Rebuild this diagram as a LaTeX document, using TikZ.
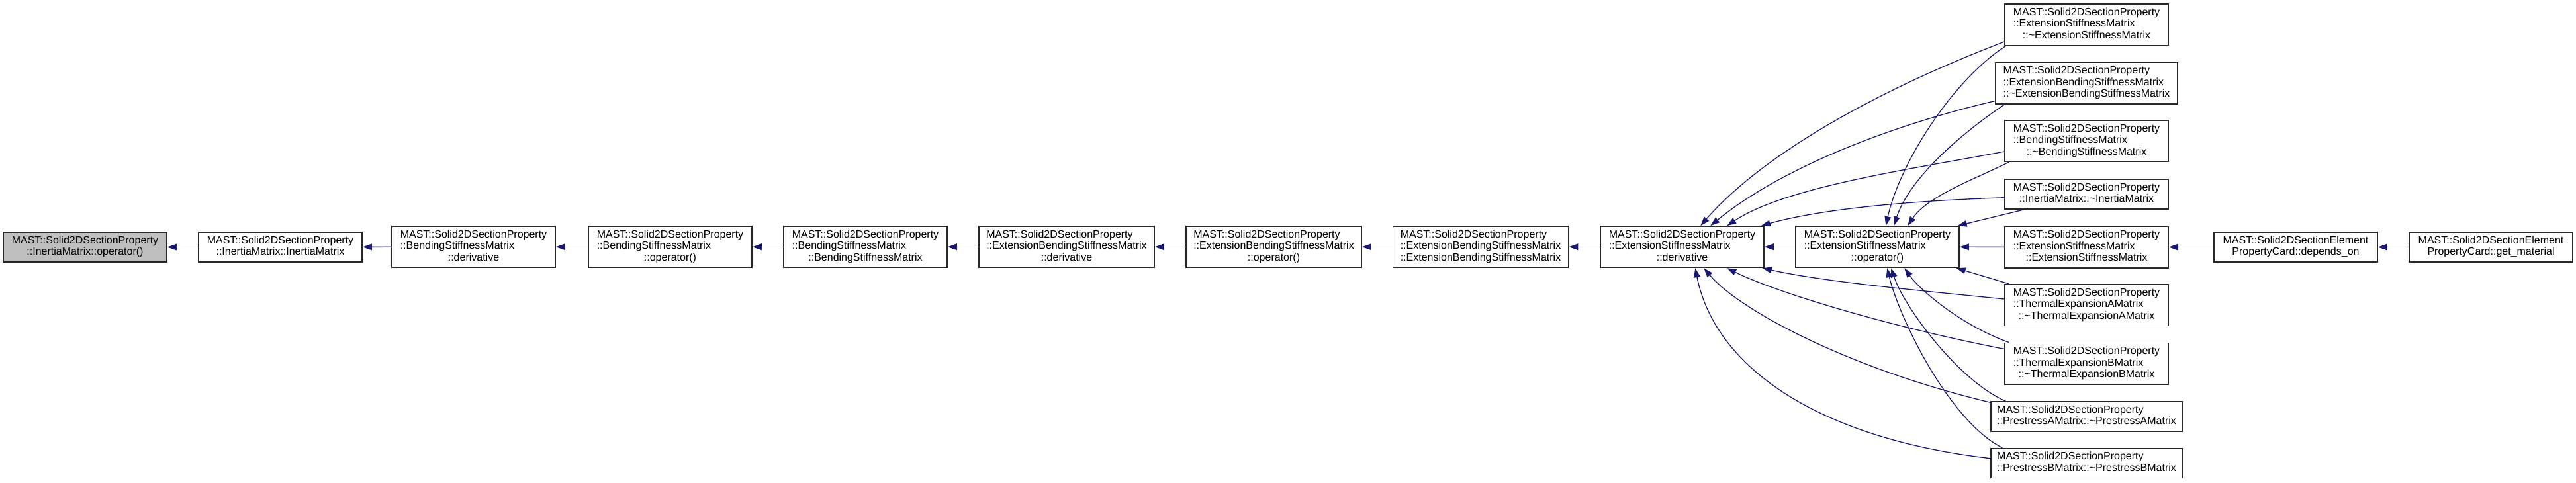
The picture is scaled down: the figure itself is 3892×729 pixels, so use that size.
\documentclass[tikz,border=0pt]{standalone}
\usepackage{fontspec}
\setmainfont{Liberation Sans}
\definecolor{edgeblue}{RGB}{25,25,112}
\definecolor{boxline}{RGB}{40,40,40}
\definecolor{boxgray}{RGB}{191,191,191}
\usetikzlibrary{arrows.meta,calc}
\newcommand{\fnthree}[3]{\begin{tabular}{@{}l@{}}#1\\#2\\\multicolumn{1}{@{}c@{}}{#3}\end{tabular}}
\newcommand{\fntwo}[2]{\begin{tabular}{@{}c@{}}#1\\#2\end{tabular}}
\newcommand{\fntwoleft}[2]{\begin{tabular}{@{}l@{}}#1\\#2\end{tabular}}
\newcommand{\mastsp}{MAST::Solid2DSectionProperty}
\newcommand{\tld}{\textasciitilde}

\begin{document}
\begin{tikzpicture}[x=0.5pt, y=-0.5pt,
  fn/.style={draw=boxline, line width=0.75pt, fill=white, inner xsep=3pt, inner ysep=1pt,
    font=\fontsize{8}{8.75}\selectfont, minimum width=123.5pt},
  fn3/.style={fn, minimum height=31.25pt},
  fn2/.style={fn, minimum height=22.5pt},
  call/.style={draw=edgeblue, line width=0.65pt, -{Triangle[length=7pt,width=4.8pt]}}]
  \useasboundingbox (0,0) rectangle (3892,729);
  %% main chain
  \node[fn2, fill=boxgray] (iop) at (128.5,373.5) {\fntwo{\mastsp}{::InertiaMatrix::operator()}};
  \node[fn2] (ictor) at (423.5,373.5) {\fntwo{\mastsp}{::InertiaMatrix::InertiaMatrix}};
  \node[fn3] (bder) at (715.5,373.2) {\fnthree{\mastsp}{::BendingStiffnessMatrix}{::derivative}};
  \node[fn3] (bop) at (1012.5,373.2) {\fnthree{\mastsp}{::BendingStiffnessMatrix}{::operator()}};
  \node[fn3] (bctor) at (1307.5,373.2) {\fnthree{\mastsp}{::BendingStiffnessMatrix}{::BendingStiffnessMatrix}};
  \node[fn3, minimum width=132.5pt] (ebder) at (1611.5,373.2) {\fnthree{\mastsp}{::ExtensionBendingStiffnessMatrix}{::derivative}};
  \node[fn3, minimum width=132.5pt] (ebop) at (1924.5,373.2) {\fnthree{\mastsp}{::ExtensionBendingStiffnessMatrix}{::operator()}};
  \node[fn3, minimum width=132.5pt] (ebctor) at (2237,373.2) {\fnthree{\mastsp}{::ExtensionBendingStiffnessMatrix}{::ExtensionBendingStiffnessMatrix}};
  \node[fn3] (eder) at (2541.5,373.2) {\fnthree{\mastsp}{::ExtensionStiffnessMatrix}{::derivative}};
  \node[fn3] (eop) at (2836.5,373.2) {\fnthree{\mastsp}{::ExtensionStiffnessMatrix}{::operator()}};
  %% callers column
  \node[fn3] (edtor) at (3152.5,37) {\fnthree{\mastsp}{::ExtensionStiffnessMatrix}{::\tld ExtensionStiffnessMatrix}};
  \node[fn3, minimum width=137.5pt] (ebdtor) at (3152.5,125.5) {\fnthree{\mastsp}{::ExtensionBendingStiffnessMatrix}{::\tld ExtensionBendingStiffnessMatrix}};
  \node[fn3] (bdtor) at (3152.5,213) {\fnthree{\mastsp}{::BendingStiffnessMatrix}{::\tld BendingStiffnessMatrix}};
  \node[fn2] (idtor) at (3152.5,293.5) {\fntwo{\mastsp}{::InertiaMatrix::\tld InertiaMatrix}};
  \node[fn3] (ector) at (3152.5,373.5) {\fnthree{\mastsp}{::ExtensionStiffnessMatrix}{::ExtensionStiffnessMatrix}};
  \node[fn3] (tadtor) at (3152.5,461) {\fnthree{\mastsp}{::ThermalExpansionAMatrix}{::\tld ThermalExpansionAMatrix}};
  \node[fn3] (tbdtor) at (3152.5,549.5) {\fnthree{\mastsp}{::ThermalExpansionBMatrix}{::\tld ThermalExpansionBMatrix}};
  \node[fn2, minimum width=144.5pt] (padtor) at (3152.5,629.5) {\fntwoleft{\mastsp}{::PrestressAMatrix::\tld PrestressAMatrix}};
  \node[fn2, minimum width=144.5pt] (pbdtor) at (3152.5,700) {\fntwoleft{\mastsp}{::PrestressBMatrix::\tld PrestressBMatrix}};
  %% element property card
  \node[fn2] (depon) at (3468.5,373.5) {\fntwo{MAST::Solid2DSectionElement}{PropertyCard::depends\_on}};
  \node[fn2] (getmat) at (3763.5,373.5) {\fntwo{MAST::Solid2DSectionElement}{PropertyCard::get\_material}};
  %% straight calls
  \draw[call] (ictor) -- (iop);
  \draw[call] (bder) -- (ictor);
  \draw[call] (bop) -- (bder);
  \draw[call] (bctor) -- (bop);
  \draw[call] (ebder) -- (bctor);
  \draw[call] (ebop) -- (ebder);
  \draw[call] (ebctor) -- (ebop);
  \draw[call] (eder) -- (ebctor);
  \draw[call] (eop) -- (eder);
  \draw[call] (ector) -- (eop);
  \draw[call] (depon) -- (ector);
  \draw[call] (getmat) -- (depon);
  %% into ::derivative from above
  \draw[call] ($(edtor.south west)+(0,-6)$) .. controls +(-229,88) and +(80,-92) .. ($(eder.north west)+(152,0)$);
  \draw[call] ($(ebdtor.south west)+(0,-5)$) .. controls +(-150,35) and +(110,-90) .. ($(eder.north west)+(167,0)$);
  \draw[call] ($(bdtor.south west)+(0,-16)$) .. controls +(-130,25) and +(90,-60) .. ($(eder.north west)+(192,0)$);
  \draw[call] ($(idtor.south west)+(0,-18)$) .. controls +(-150,5) and +(90,-25) .. ($(eder.north east)+(-5,0)$);
  %% into ::derivative from below
  \draw[call] ($(tadtor.north west)+(0,23)$) .. controls +(-150,-15) and +(90,20) .. ($(eder.south east)+(-3,0)$);
  \draw[call] ($(tbdtor.north west)+(0,10)$) .. controls +(-180,-35) and +(70,35) .. ($(eder.south west)+(192,0)$);
  \draw[call] ($(padtor.north west)+(0,2)$) .. controls +(-210,-50) and +(55,65) .. ($(eder.south west)+(157,0)$);
  \draw[call] ($(pbdtor.north west)+(0,16)$) .. controls +(-260,-30) and +(30,150) .. ($(eder.south west)+(144,0)$);
  %% into ::operator() from above
  \draw[call] ($(edtor.south west)+(3,0)$) .. controls +(-82,52) and +(20,-92) .. ($(eop.north west)+(137,0)$);
  \draw[call] ($(ebdtor.south west)+(15,0)$) .. controls +(-60,40) and +(25,-75) .. ($(eop.north west)+(149,0)$);
  \draw[call] ($(bdtor.south west)+(7,0)$) .. controls +(-50,25) and +(30,-45) .. ($(eop.north west)+(170,0)$);
  \draw[call] ($(idtor.south west)+(30,0)$) -- ($(eop.north east)+(-3,0)$);
  %% into ::operator() from below
  \draw[call] ($(tadtor.north west)+(7,0)$) -- ($(eop.south east)+(-5,0)$);
  \draw[call] ($(tbdtor.north west)+(7,0)$) .. controls +(-70,-25) and +(25,35) .. ($(eop.south west)+(165,0)$);
  \draw[call] ($(padtor.north west)+(23,0)$) .. controls +(-70,-30) and +(20,60) .. ($(eop.south west)+(145,0)$);
  \draw[call] ($(pbdtor.north west)+(18,0)$) .. controls +(-80,-40) and +(18,75) .. ($(eop.south west)+(139,0)$);
\end{tikzpicture}
\end{document}
